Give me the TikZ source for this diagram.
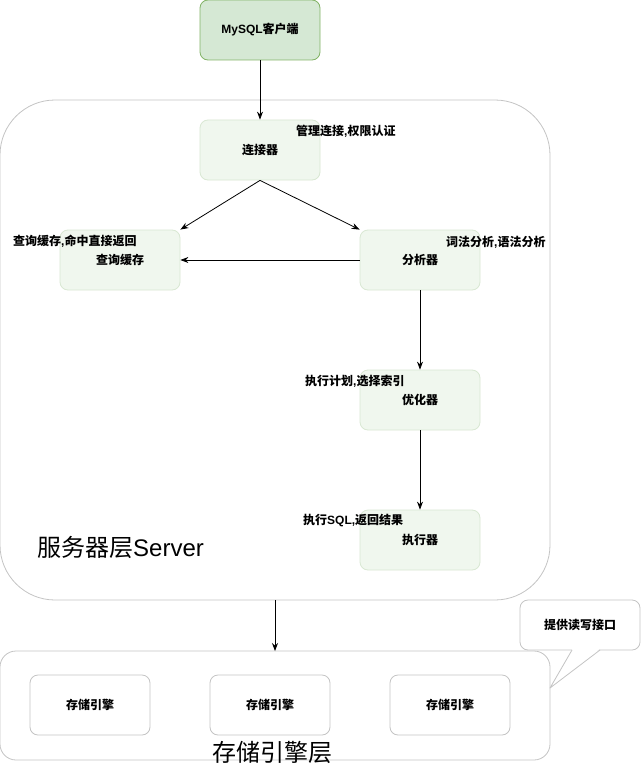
\documentclass[tikz,border=0pt]{standalone}
\usepackage{fontspec}
\setmainfont{Liberation Sans}
\newfontfamily\cjk{Noto Sans CJK SC}
\newcommand{\lat}[1]{{\rmfamily #1}}
\usetikzlibrary{arrows.meta}
\definecolor{gfill}{HTML}{D5E8D4}
\definecolor{gline}{HTML}{82B366}
\definecolor{lfill}{HTML}{F0F7EE}
\definecolor{lline}{HTML}{D9E8D3}
\definecolor{cline}{HTML}{C4C4C4}
\tikzset{
  box/.style={rounded corners=8pt, minimum width=120pt, minimum height=60pt, inner sep=0pt, font=\cjk\bfseries\fontsize{12}{14}\selectfont},
  client/.style={box, fill=gfill, draw=gline, line width=0.8pt},
  stage/.style={box, fill=lfill, draw=lline, line width=0.8pt},
  engine/.style={box, fill=white, draw=cline, line width=0.8pt},
  note/.style={inner sep=0pt, font=\cjk\bfseries\fontsize{12}{14}\selectfont},
  layer/.style={draw=cline, line width=0.8pt, fill=white},
  arr/.style={-{Stealth[length=8pt,width=6pt]}, line width=0.8pt, black},
}
\begin{document}
\begin{tikzpicture}[x=1pt,y=-1pt]
\useasboundingbox (0,0) rectangle (641,765);
% server layer
\draw[layer, rounded corners=55pt] (0,100) rectangle (550,600);
% storage layer
\draw[layer, rounded corners=16pt] (0,651) rectangle (550,760);

\node[client] (client) at (260,30) {\lat{MySQL}客户端};
\node[stage] (conn) at (260,150) {连接器};
\node[stage] (cache) at (120,260) {查询缓存};
\node[stage] (parse) at (420,260) {分析器};
\node[stage] (opt) at (420,400) {优化器};
\node[stage] (exec) at (420,540) {执行器};

\node[note, anchor=west] (n1) at (296,131) {管理连接\lat{,}权限认证};
\node[note, anchor=west] (n2) at (13,241) {查询缓存\lat{,}命中直接返回};
\node[note, anchor=west] (n3) at (446,242) {词法分析\lat{,}语法分析};
\node[note, anchor=west] (n4) at (305,381) {执行计划\lat{,}选择索引};
\node[note, anchor=west] (n5) at (303,521) {执行\lat{SQL,}返回结果};

\node[inner sep=0pt, anchor=west, font=\cjk\fontsize{24}{26}\selectfont] (srv) at (37,547) {服务器层\lat{Server}};

\node[engine] (e1) at (90,705) {存储引擎};
\node[engine] (e2) at (270,705) {存储引擎};
\node[engine] (e3) at (450,705) {存储引擎};
\node[inner sep=0pt, font=\cjk\fontsize{24}{26}\selectfont] (stl) at (272,752) {存储引擎层};

\coordinate (srvbot) at (275,600);
\coordinate (stotop) at (275,651);

\draw[arr] (client.south) -- (conn.north);
\draw[arr] (conn.south) -- (cache.north east);
\draw[arr] (conn.south) -- (parse.north west);
\draw[arr] (parse.west) -- (cache.east);
\draw[arr] (parse.south) -- (opt.north);
\draw[arr] (opt.south) -- (exec.north);
\draw[arr] (srvbot) -- (stotop);

% callout
\node[draw=cline, fill=white, line width=0.8pt, rounded corners=8pt, minimum width=120pt, minimum height=50pt, inner sep=0pt, font=\cjk\bfseries\fontsize{12}{14}\selectfont] (call) at (580,625) {提供读写接口};
\coordinate (tip) at (550,688);
\fill[white] (572.5,649) -- (599.5,649) -- (tip) -- cycle;
\draw[cline, line width=0.8pt, line join=round] (572,650) -- (tip) -- (600,650);
\end{tikzpicture}
\end{document}
